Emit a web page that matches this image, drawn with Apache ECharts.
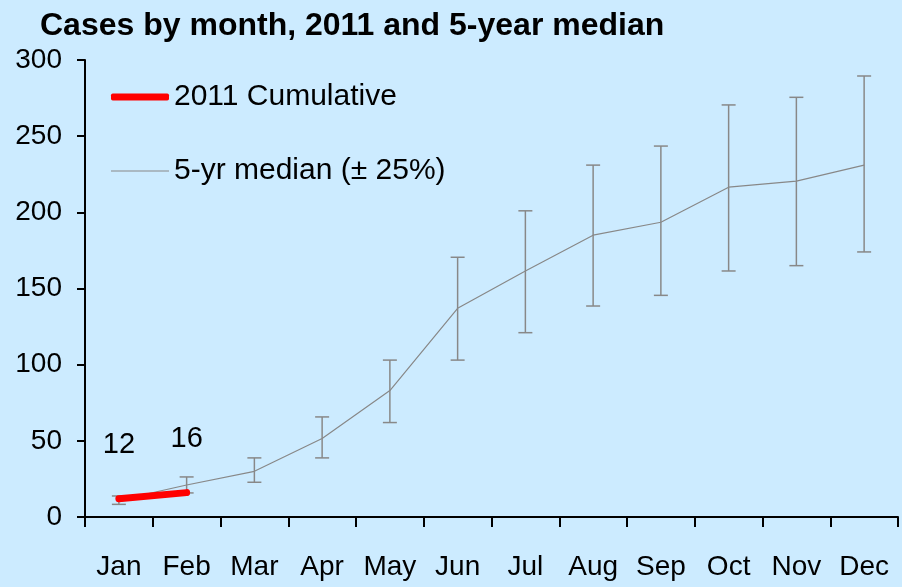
<!DOCTYPE html>
<html>
<head>
<meta charset="utf-8">
<script src="https://cdn.jsdelivr.net/npm/echarts@6/dist/echarts.min.js"></script>
<style>
html,body{margin:0;padding:0;background:#CCEBFF;}
#chart{width:902px;height:587px;}
</style>
</head>
<body>
<div id="chart"></div>
<script>
const months = ['Jan','Feb','Mar','Apr','May','Jun','Jul','Aug','Sep','Oct','Nov','Dec'];
const cumulative2011 = [12, 16];
const median5yr = [11, 21, 30, 51.5, 83, 137, 161.5, 185, 193.5, 216.5, 220.5, 231];
const medianLow = [8.3, 15.8, 22.8, 38.8, 62, 103, 121, 138.5, 145.5, 161.5, 165, 174];
const medianHigh = [13.8, 26.3, 38.8, 65.7, 103, 170.5, 201, 231, 243.5, 270.5, 275.5, 289.5];
const yTicks = [0, 50, 100, 150, 200, 250, 300];

const FONT = "'Liberation Sans Narrow', 'Liberation Sans', Arial, sans-serif";
const chart = echarts.init(document.getElementById('chart'), null, {renderer: 'canvas'});

const errData = months.map((m, i) => [i, medianLow[i], medianHigh[i]]);

chart.setOption({
  backgroundColor: '#CCEBFF',
  animation: false,
  title: {
    text: 'Cases by month, 2011 and 5-year median',
    left: 35, top: 5,
    textStyle: {fontFamily: FONT, fontSize: 32, fontWeight: 'bold', color: '#000'}
  },
  legend: [{
    data: [{name: '2011 Cumulative', icon: 'roundRect'}],
    left: 106, top: 77, itemWidth: 58, itemHeight: 7, itemGap: 8,
    textStyle: {fontFamily: FONT, fontSize: 30, color: '#000'},
    itemStyle: {color: '#FF0000'}
  }, {
    data: [{name: '5-yr median (± 25%)', icon: 'rect'}],
    left: 106, top: 151, itemWidth: 58, itemHeight: 1, itemGap: 8,
    textStyle: {fontFamily: FONT, fontSize: 30, color: '#000'},
    itemStyle: {color: '#888888'}
  }],
  grid: {left: 85, right: 4, top: 60, bottom: 70, containLabel: false},
  xAxis: {
    type: 'category', data: months, boundaryGap: true,
    axisLine: {lineStyle: {color: '#000', width: 2}},
    axisTick: {show: true, length: 10, inside: false, alignWithLabel: false, lineStyle: {color: '#000', width: 2}},
    axisLabel: {fontFamily: FONT, fontSize: 28, color: '#000', margin: 36, interval: 0},
    splitLine: {show: false}
  },
  yAxis: {
    type: 'value', min: yTicks[0], max: yTicks[yTicks.length - 1], interval: 50,
    axisLine: {show: true, lineStyle: {color: '#000', width: 2}},
    axisTick: {show: true, length: 8, lineStyle: {color: '#000', width: 2}},
    axisLabel: {fontFamily: FONT, fontSize: 28, color: '#000', margin: 23},
    splitLine: {show: false}
  },
  series: [{
    name: '5-yr median (± 25%)',
    type: 'line', data: median5yr, symbol: 'none', z: 2,
    lineStyle: {color: '#888888', width: 1.2},
    itemStyle: {color: '#888888'}
  }, {
    name: 'errorbars',
    type: 'custom', z: 3,
    data: errData,
    renderItem: function (params, api) {
      const x = api.value(0);
      const lo = api.coord([x, api.value(1)]);
      const hi = api.coord([x, api.value(2)]);
      const hw = 7;
      const st = {stroke: '#888888', lineWidth: 1.5};
      return {
        type: 'group',
        children: [
          {type: 'line', shape: {x1: lo[0], y1: lo[1], x2: hi[0], y2: hi[1]}, style: st},
          {type: 'line', shape: {x1: lo[0] - hw, y1: lo[1], x2: lo[0] + hw, y2: lo[1]}, style: st},
          {type: 'line', shape: {x1: hi[0] - hw, y1: hi[1], x2: hi[0] + hw, y2: hi[1]}, style: st}
        ]
      };
    }
  }, {
    name: '2011 Cumulative',
    type: 'line', data: cumulative2011, z: 4,
    symbol: 'circle', symbolSize: 6, showSymbol: true,
    lineStyle: {color: '#FF0000', width: 7, cap: 'round'},
    itemStyle: {color: '#FF0000', borderWidth: 0},
    label: {show: true, position: 'top', distance: 36, fontFamily: FONT, fontSize: 29, color: '#000'}
  }]
});
</script>
</body>
</html>
